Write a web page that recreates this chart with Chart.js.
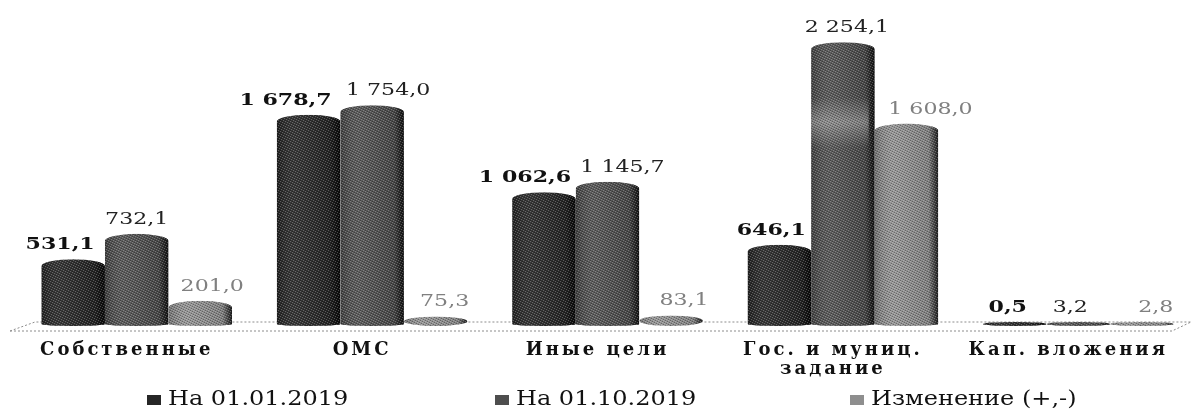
<!DOCTYPE html>
<html lang="ru">
<head>
<meta charset="utf-8">
<title>Chart</title>
<script src="https://cdn.jsdelivr.net/npm/chart.js@4/dist/chart.umd.min.js"></script>
<style>
  html, body { margin: 0; padding: 0; background: #fff; overflow: hidden; }
  #wrap { width: 1192px; height: 409px; overflow: hidden; }
</style>
</head>
<body>
<div id="wrap"><canvas id="chart" width="1200" height="409"></canvas></div>
<script>
const categories = ['Собственные', 'ОМС', 'Иные цели', ['Гос. и муниц.', 'задание'], 'Кап. вложения']
const seriesNames = ['На 01.01.2019', 'На 01.10.2019', 'Изменение (+,-)']
const jan2019 = [531.1, 1678.7, 1062.6, 646.1, 0.5]
const oct2019 = [732.1, 1754.0, 1145.7, 2254.1, 3.2]
const change = [201.0, 75.3, 83.1, 1608.0, 2.8]

const FONT = '"DejaVu Serif", serif'
const barColors = ['#262626', '#4e4e4e', '#8e8e8e']
const labelColors = ['#111', '#222', '#808080']
const labelWeights = ['bold', 'normal', 'normal']

// the value labels are not centred over the bars in the original
const labelNudge = [
  [-13, 0, 12],
  [-23, 16, 9],
  [-19, 15, 13],
  [-8, 4, 24],
  [-7, -8, 14]
]
const legendX = [147, 495, 850]

function formatValue(v) {
  const parts = v.toFixed(1).split('.')
  return parts[0].replace(/\B(?=(\d{3})+$)/g, ' ') + ',' + parts[1]
}

// the text in the original is stretched sideways
function stretchedText(ctx, text, x, y, sx) {
  ctx.save()
  ctx.translate(x, y)
  ctx.scale(sx, 1)
  ctx.fillText(text, 0, 0)
  ctx.restore()
}

// halftone tile, the original is a dithered scan
function makeHalftone(ctx) {
  const tile = document.createElement('canvas')
  tile.width = 5
  tile.height = 5
  const t = tile.getContext('2d')
  t.fillStyle = 'rgba(0,0,0,0.3)'
  ;[[0, 0], [2, 1], [4, 2], [1, 3], [3, 4]].forEach(p => t.fillRect(p[0], p[1], 1, 1))
  t.fillStyle = 'rgba(255,255,255,0.25)'
  ;[[3, 0], [0, 1], [2, 2], [4, 3], [1, 4]].forEach(p => t.fillRect(p[0], p[1], 1, 1))
  return ctx.createPattern(tile, 'repeat')
}

const cylinders = {
  id: 'cylinders',
  beforeDatasetDraw(chart, args) {
    const ctx = chart.ctx
    const bars = chart.getDatasetMeta(args.index).data
    ctx.save()
    ctx.beginPath()
    bars.forEach(bar => {
      const w = bar.width
      const h = bar.base - bar.y
      const ry = Math.min(7, h / 2)
      const rb = h < 15 ? h / 2 : 2
      ctx.rect(bar.x - w / 2, bar.y + ry, w, h - ry - rb)
      ctx.moveTo(bar.x + w / 2, bar.y + ry)
      ctx.ellipse(bar.x, bar.y + ry, w / 2, ry, 0, 0, Math.PI * 2)
      ctx.moveTo(bar.x + w / 2, bar.base - rb)
      ctx.ellipse(bar.x, bar.base - rb, w / 2, rb, 0, 0, Math.PI * 2)
    })
    ctx.clip()
  },
  afterDatasetDraw(chart, args) {
    const ctx = chart.ctx
    const bars = chart.getDatasetMeta(args.index).data
    const halftone = makeHalftone(ctx)
    bars.forEach((bar, j) => {
      const left = bar.x - bar.width / 2
      const shade = ctx.createLinearGradient(left, 0, left + bar.width, 0)
      shade.addColorStop(0, 'rgba(0,0,0,0.2)')
      shade.addColorStop(0.3, 'rgba(255,255,255,0.08)')
      shade.addColorStop(0.85, 'rgba(0,0,0,0.1)')
      shade.addColorStop(1, 'rgba(0,0,0,0.8)')
      ctx.fillStyle = shade
      ctx.fillRect(left, bar.y, bar.width, bar.base - bar.y)
      // light band on the tall bar
      if (args.index === 1 && j === 3) {
        const band = ctx.createLinearGradient(0, bar.y + 55, 0, bar.y + 105)
        band.addColorStop(0, 'rgba(255,255,255,0)')
        band.addColorStop(0.5, 'rgba(255,255,255,0.3)')
        band.addColorStop(1, 'rgba(255,255,255,0)')
        ctx.fillStyle = band
        ctx.fillRect(left, bar.y + 55, bar.width - 6, 50)
      }
      ctx.fillStyle = halftone
      ctx.fillRect(left, bar.y, bar.width, bar.base - bar.y)
    })
    ctx.restore()
  }
}

// dotted floor under the bars
const floor = {
  id: 'floor',
  beforeDatasetsDraw(chart) {
    const ctx = chart.ctx
    const base = chart.scales.y.bottom
    ctx.save()
    ctx.strokeStyle = '#8c8c8c'
    ctx.lineWidth = 1
    ctx.setLineDash([2, 2])
    ctx.beginPath()
    ctx.moveTo(10, base + 5)
    ctx.lineTo(35, base - 4)
    ctx.lineTo(1191, base - 4)
    ctx.moveTo(10, base + 5)
    ctx.lineTo(1172, base + 5)
    ctx.lineTo(1191, base - 4)
    ctx.stroke()
    ctx.restore()
  }
}

const valueLabels = {
  id: 'valueLabels',
  afterDatasetsDraw(chart) {
    const ctx = chart.ctx
    ctx.save()
    ctx.letterSpacing = '0px'
    ctx.textAlign = 'center'
    ctx.textBaseline = 'bottom'
    chart.data.datasets.forEach((ds, i) => {
      ctx.fillStyle = labelColors[i]
      ctx.font = labelWeights[i] + ' 17px ' + FONT
      chart.getDatasetMeta(i).data.forEach((bar, j) => {
        stretchedText(ctx, formatValue(ds.data[j]), bar.x + labelNudge[j][i], bar.y - 6, 1.3)
      })
    })
    ctx.restore()
  }
}

const spacedLegend = {
  id: 'spacedLegend',
  afterDraw(chart) {
    const ctx = chart.ctx
    ctx.save()
    ctx.letterSpacing = '0px'
    ctx.font = '20px ' + FONT
    ctx.textBaseline = 'middle'
    ctx.textAlign = 'left'
    chart.data.datasets.forEach((ds, i) => {
      ctx.fillStyle = barColors[i]
      ctx.fillRect(legendX[i], 395, 14, 10)
      ctx.fillStyle = '#111'
      stretchedText(ctx, ds.label, legendX[i] + 21, 400, 1.2)
    })
    ctx.restore()
  }
}

// the library draws the ticks, so they get spacing rather than stretching
const wideTicks = {
  id: 'wideTicks',
  beforeDraw(chart) {
    chart.ctx.letterSpacing = '3px'
  }
}

new Chart(document.getElementById('chart'), {
  type: 'bar',
  data: {
    labels: categories,
    datasets: [jan2019, oct2019, change].map((values, i) => ({
      label: seriesNames[i],
      data: values,
      backgroundColor: barColors[i],
      minBarLength: 4,
      barPercentage: 1,
      categoryPercentage: 0.81
    }))
  },
  options: {
    responsive: false,
    animation: false,
    layout: { padding: { left: 19, right: 4, top: 0, bottom: 0 } },
    plugins: { legend: { display: false }, tooltip: { enabled: false } },
    scales: {
      x: {
        grid: { display: false },
        border: { display: false },
        afterFit(scale) { scale.height = 83 },
        ticks: {
          color: '#111',
          labelOffset: -10,
          padding: 6,
          maxRotation: 0,
          autoSkip: false,
          font: { family: FONT, size: 18, weight: 'bold', lineHeight: 1.1 }
        }
      },
      y: { display: false, min: 0, max: 2590 }
    }
  },
  plugins: [wideTicks, floor, cylinders, valueLabels, spacedLegend]
})
</script>
</body>
</html>
